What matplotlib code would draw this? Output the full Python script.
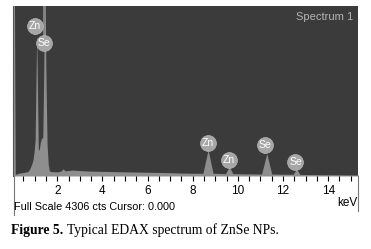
import matplotlib.pyplot as plt

# EDAX spectrum (energy in keV, counts)
energy = [0.0, 0.04, 0.06, 0.1, 0.14, 0.3, 0.5, 0.7, 0.8, 0.88, 0.93, 0.97,
          1.02, 1.06, 1.09, 1.12, 1.16, 1.2, 1.25, 1.3, 1.36, 1.4, 1.45, 1.5,
          1.55, 1.6, 1.65, 1.75, 1.8, 2.0, 2.15, 2.26, 2.35, 2.5, 2.7, 2.9,
          3.1, 3.4, 3.8, 4.2, 4.6, 5.0, 5.5, 6.0, 6.5, 7.0, 7.5, 8.0, 8.45,
          8.68, 8.9, 9.2, 9.45, 9.62, 9.78, 10.2, 10.8, 11.05, 11.28, 11.5,
          12.0, 12.45, 12.6, 12.75, 13.5, 14.5, 15.4]
counts = [0, 0, 5000, 5000, 40, 70, 90, 110, 200, 320, 420, 600,
          900, 2500, 3600, 2400, 700, 650, 850, 950, 980, 2500, 5500, 2500,
          800, 300, 130, 110, 110, 105, 120, 180, 130, 140, 150, 140,
          135, 125, 120, 115, 110, 105, 100, 95, 90, 85, 75, 70, 70,
          660, 70, 65, 60, 230, 60, 55, 50, 50, 570, 50,
          45, 45, 180, 40, 35, 30, 25]

# peak labels: element, energy, label height (cts), peak top (cts)
peak_names = ["Zn", "Se", "Zn", "Zn", "Se", "Se"]
peak_energy = [1.02, 1.42, 8.68, 9.6, 11.22, 12.55]
label_counts = [3800, 3370, 835, 400, 790, 360]
peak_top = [3600, 4306, 660, 230, 570, 180]

full_scale = 4306
xticks = [i * 0.5 for i in range(1, 31)]
xlabels = [str(int(t)) if t % 2 == 0 else "" for t in xticks]

fig = plt.figure(figsize=(3.71, 2.49), dpi=100)
ax = fig.add_axes([13 / 371, 73 / 249, 345 / 371, 170 / 249])
ax.set_facecolor("#3b3b3b")

ax.fill_between(energy, counts, color="#8e8e8e", linewidth=0)

for name, e, lc, top in zip(peak_names, peak_energy, label_counts, peak_top):
    ax.plot([e, e], [top, lc], color="#8e8e8e", linewidth=1.2, zorder=3)
    ax.scatter([e], [lc], s=130, color="#a6a6a6", edgecolors="#b8b8b8",
               linewidths=0.5, zorder=4)
    ax.text(e, lc, name, color="white", fontsize=7.5, ha="center", va="center",
            family="Liberation Sans", zorder=5)

ax.text(0.985, 0.965, "Spectrum 1", transform=ax.transAxes, ha="right", va="top",
        color="#b4b4b4", fontsize=8, family="Liberation Sans")

ax.set_xlim(0.04, 15.32)
ax.set_ylim(0, full_scale)
ax.set_yticks([])
ax.set_xticks(xticks)
ax.set_xticklabels(xlabels, family="Liberation Sans", fontsize=8.5)
ax.tick_params(axis="x", direction="out", length=3.6, width=0.8, pad=3,
               color="black")
for s in ["top", "right", "bottom"]:
    ax.spines[s].set_visible(False)
ax.spines["left"].set_color("#555555")

# white frame below the panel
fig.add_artist(plt.Line2D([13.5 / 371, 13.5 / 371], [34 / 249, 73 / 249],
                          color="#777777", linewidth=0.8))
fig.add_artist(plt.Line2D([358 / 371, 358 / 371], [38 / 249, 73 / 249],
                          color="#777777", linewidth=0.8))

fig.text(14 / 371, 1 - 207 / 249, "Full Scale 4306 cts Cursor: 0.000",
         family="Liberation Sans", fontsize=7.8, va="center", ha="left")
fig.text(357 / 371, 1 - 203 / 249, "keV", family="Liberation Sans",
         fontsize=8.5, va="center", ha="right")

# caption: bold label, then the rest right after it
cap1 = fig.text(11 / 371, 1 - 230 / 249, "Figure 5.", family="Liberation Serif",
                fontweight="bold", fontsize=9.8, va="center", ha="left")
fig.canvas.draw()
x_end = cap1.get_window_extent().x1 + 4
fig.text(x_end / 371, 1 - 230 / 249, "Typical EDAX spectrum of ZnSe NPs.",
         family="Liberation Serif", fontsize=9.8, va="center", ha="left")

fig.savefig("out.png", dpi=100)
